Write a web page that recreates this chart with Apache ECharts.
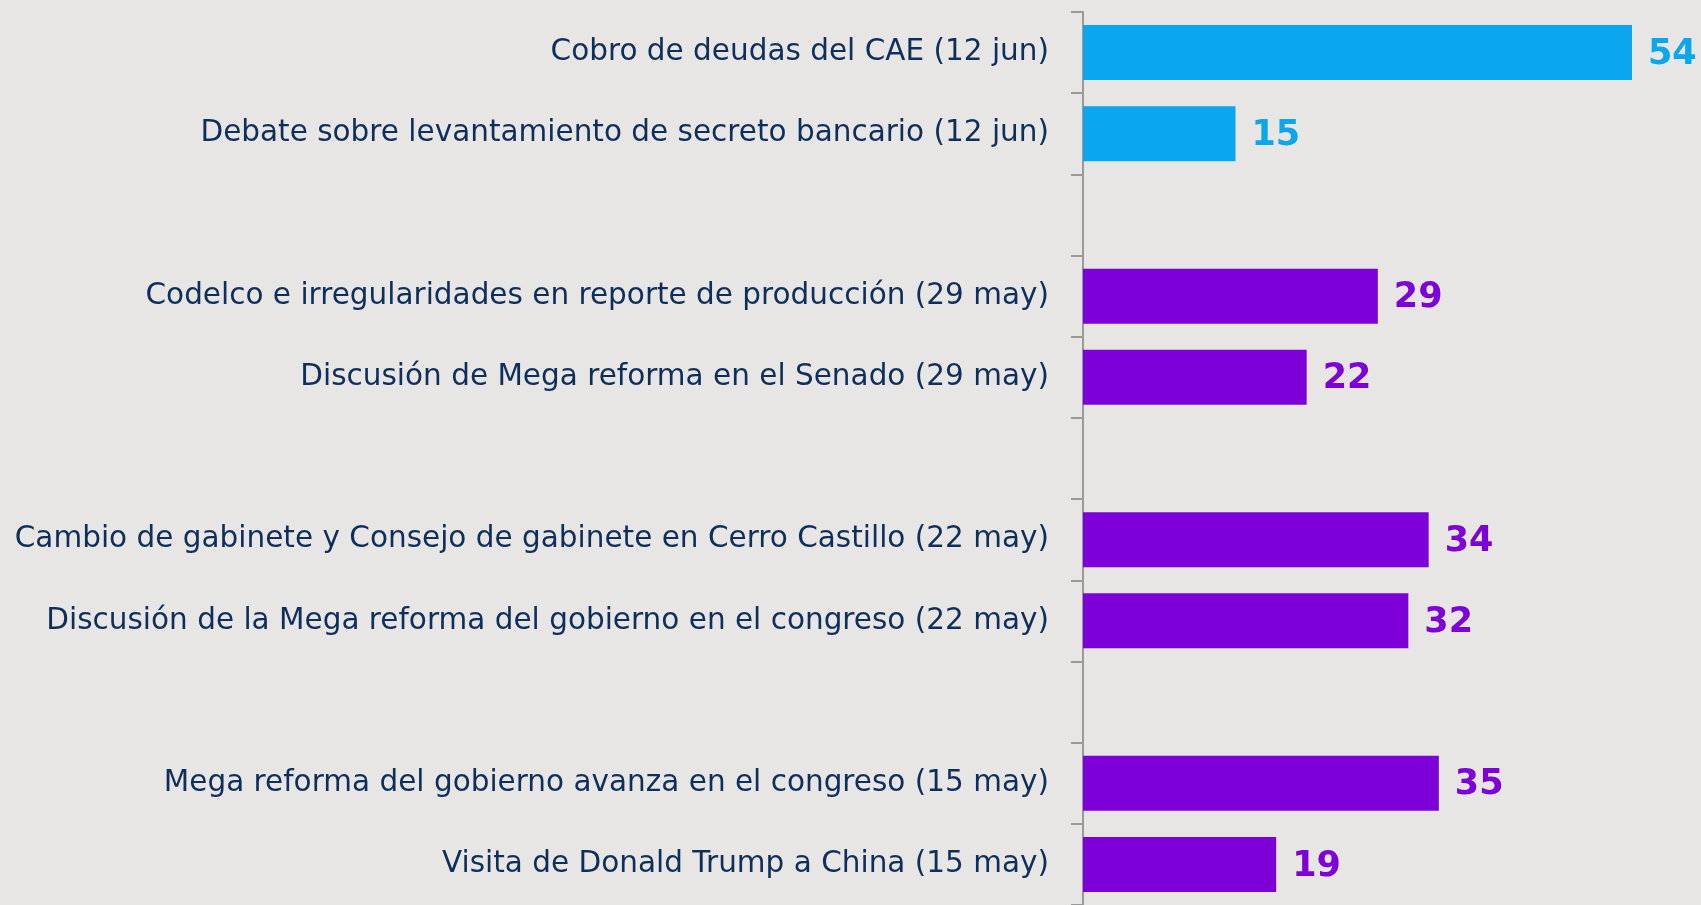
<!DOCTYPE html>
<html>
<head>
<meta charset="utf-8">
<title>Temas</title>
<script src="https://cdn.jsdelivr.net/npm/echarts@6/dist/echarts.min.js"></script>
<style>
  html, body { margin: 0; padding: 0; background: #e8e6e4; }
  #chart { width: 1701px; height: 905px; }
</style>
</head>
<body>
<div id="chart"></div>
<script>
// categorias (las vacias separan semanas)
const categories = [
    'Cobro de deudas del CAE (12 jun)',
    'Debate sobre levantamiento de secreto bancario (12 jun)',
    '',
    'Codelco e irregularidades en reporte de producción (29 may)',
    'Discusión de Mega reforma en el Senado (29 may)',
    ' ',
    'Cambio de gabinete y Consejo de gabinete en Cerro Castillo (22 may)',
    'Discusión de la Mega reforma del gobierno en el congreso (22 may)',
    '  ',
    'Mega reforma del gobierno avanza en el congreso (15 may)',
    'Visita de Donald Trump a China (15 may)'
];
const values = [54, 15, null, 29, 22, null, 34, 32, null, 35, 19];
// semana actual en celeste, anteriores en morado
const isCurrent = [true, true, false, false, false, false, false, false, false, false, false];

const BLUE = '#0aa6ee';
const PURPLE = '#7d00d9';
const FONT = '"DejaVu Sans", sans-serif';

const myChart = echarts.init(document.getElementById('chart'));

const option = {
    backgroundColor: '#e8e6e4',
    animation: false,
    grid: {
        top: 12,
        left: 1083,
        width: 610,
        height: 898
    },
    xAxis: {
        type: 'value',
        min: 0,
        max: 60,
        show: false
    },
    yAxis: {
        type: 'category',
        inverse: true,
        data: categories,
        axisLine: { show: true, lineStyle: { color: '#999999', width: 2 } },
        axisTick: { show: true, length: 12, lineStyle: { color: '#999999', width: 2 } },
        axisLabel: {
            margin: 34,
            color: '#0e2f5c',
            fontFamily: FONT,
            fontSize: 29.5
        }
    },
    series: [{
        type: 'bar',
        barWidth: 55,
        data: values.map((v, i) => ({
            value: v,
            itemStyle: { color: isCurrent[i] ? BLUE : PURPLE },
            label: { color: isCurrent[i] ? BLUE : PURPLE }
        })),
        label: {
            show: true,
            position: 'right',
            distance: 16,
            offset: [0, 2],
            fontFamily: FONT,
            fontWeight: 'bold',
            fontSize: 35,
            formatter: p => p.value == null ? '' : p.value
        }
    }]
};

myChart.setOption(option);
</script>
</body>
</html>
